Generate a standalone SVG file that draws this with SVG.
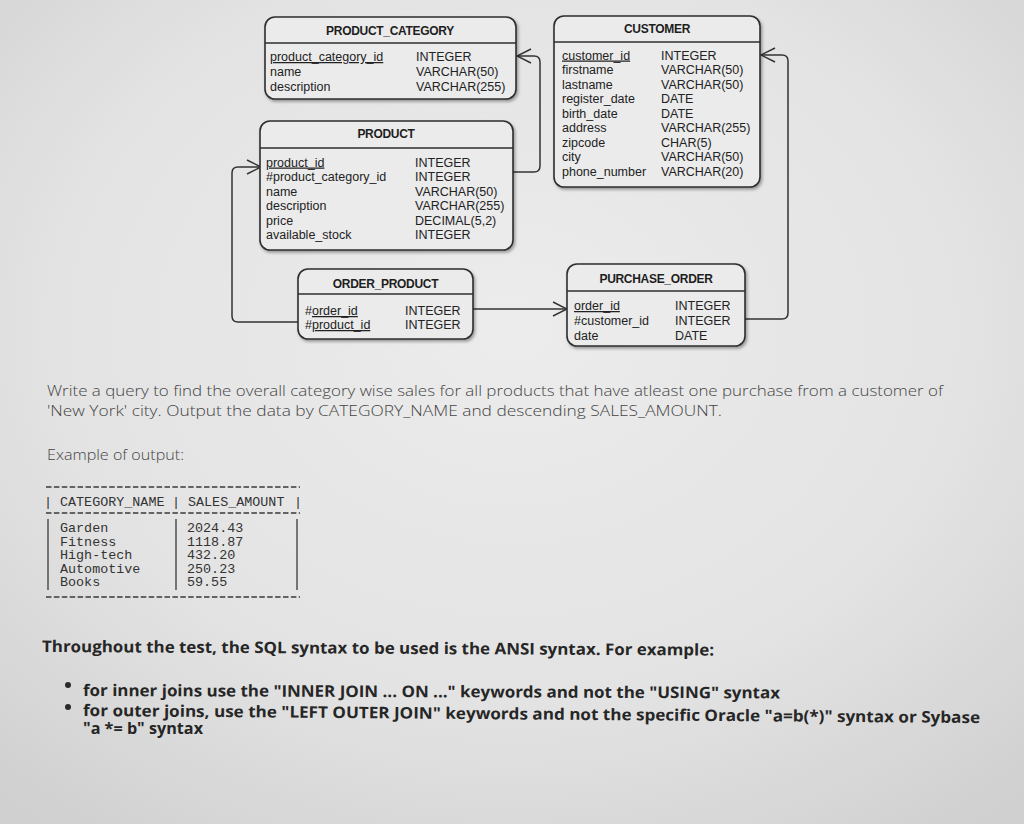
<svg xmlns="http://www.w3.org/2000/svg" width="1024" height="824" viewBox="0 0 1024 824">
<defs>
<radialGradient id="bg" cx="0.5" cy="0.4" r="0.75">
<stop offset="0" stop-color="#ececec"/>
<stop offset="0.6" stop-color="#e3e3e3"/>
<stop offset="1" stop-color="#d0d0d0"/>
</radialGradient>
<filter id="sh" x="-10%" y="-10%" width="120%" height="130%">
<feDropShadow dx="1.5" dy="2" stdDeviation="1.5" flood-color="#000" flood-opacity="0.35"/>
</filter>
<marker id="arr" viewBox="0 0 16 16" refX="15" refY="8" markerWidth="16" markerHeight="16" markerUnits="userSpaceOnUse" orient="auto">
<path d="M1,1 L15,8 L1,15" fill="none" stroke="#333" stroke-width="1.5"/>
</marker>
<style>
.box{fill:#ebebeb;stroke:#2e2e2e;stroke-width:1.6;filter:url(#sh)}
.hl{stroke:#2e2e2e;stroke-width:1.3}
.t{font-family:"Liberation Sans",Arial,sans-serif;font-size:12px;font-weight:bold;fill:#1e1e1e;text-anchor:middle;letter-spacing:-0.3px}
.f{font-family:"Liberation Sans",Arial,sans-serif;font-size:12.5px;fill:#222}
.u{text-decoration:underline}
.con{fill:none;stroke:#333;stroke-width:1.5;marker-end:url(#arr)}
.q{font-family:"Open Sans",sans-serif;font-size:14.5px;fill:#444;font-weight:300}
.b{font-family:"Open Sans",sans-serif;font-size:16px;font-weight:bold;fill:#262626}
.m{font-family:"Liberation Mono","Courier New",monospace;font-size:13.4px;fill:#333}
.bar{stroke:#3a3a3a;stroke-width:1.3}
.dash{stroke:#3a3a3a;stroke-width:1.3;stroke-dasharray:5.5 2.4}
</style>
</defs>
<rect width="1024" height="824" fill="url(#bg)"/>

<g id="connectors">
<path class="con" d="M513,172 H534 Q540,172 540,166 V62 Q540,56 534,56 H517"/>
<path class="con" d="M298,322 H238 Q232,322 232,316 V173 Q232,167 238,167 H261"/>
<path class="con" d="M473,309 H567"/>
<path class="con" d="M745,319 H782 Q788,319 788,313 V61 Q788,55 782,55 H761"/>
</g>

<g id="product_category">
<rect class="box" x="265" y="17" width="251" height="82" rx="10"/>
<line class="hl" x1="265" y1="43" x2="516" y2="43"/>
<text class="t" x="390" y="35">PRODUCT_CATEGORY</text>
<text class="f u" x="270" y="61">product_category_id</text>
<text class="f" x="270" y="76">name</text>
<text class="f" x="270" y="90.5">description</text>
<text class="f" x="416" y="61">INTEGER</text>
<text class="f" x="416" y="76">VARCHAR(50)</text>
<text class="f" x="416" y="90.5">VARCHAR(255)</text>
</g>

<g id="customer">
<rect class="box" x="554" y="16" width="206" height="171" rx="10"/>
<line class="hl" x1="554" y1="42" x2="760" y2="42"/>
<text class="t" x="657" y="33">CUSTOMER</text>
<text class="f u" x="562" y="59.5">customer_id</text>
<text class="f" x="562" y="74">firstname</text>
<text class="f" x="562" y="88.5">lastname</text>
<text class="f" x="562" y="103">register_date</text>
<text class="f" x="562" y="117.5">birth_date</text>
<text class="f" x="562" y="132">address</text>
<text class="f" x="562" y="146.5">zipcode</text>
<text class="f" x="562" y="161">city</text>
<text class="f" x="562" y="175.5">phone_number</text>
<text class="f" x="661" y="59.5">INTEGER</text>
<text class="f" x="661" y="74">VARCHAR(50)</text>
<text class="f" x="661" y="88.5">VARCHAR(50)</text>
<text class="f" x="661" y="103">DATE</text>
<text class="f" x="661" y="117.5">DATE</text>
<text class="f" x="661" y="132">VARCHAR(255)</text>
<text class="f" x="661" y="146.5">CHAR(5)</text>
<text class="f" x="661" y="161">VARCHAR(50)</text>
<text class="f" x="661" y="175.5">VARCHAR(20)</text>
</g>

<g id="product">
<rect class="box" x="260" y="121" width="253" height="129" rx="10"/>
<line class="hl" x1="260" y1="148" x2="513" y2="148"/>
<text class="t" x="386" y="138">PRODUCT</text>
<text class="f u" x="266" y="166.5">product_id</text>
<text class="f" x="266" y="181">#product_category_id</text>
<text class="f" x="266" y="195.5">name</text>
<text class="f" x="266" y="210">description</text>
<text class="f" x="266" y="224.5">price</text>
<text class="f" x="266" y="239">available_stock</text>
<text class="f" x="415" y="166.5">INTEGER</text>
<text class="f" x="415" y="181">INTEGER</text>
<text class="f" x="415" y="195.5">VARCHAR(50)</text>
<text class="f" x="415" y="210">VARCHAR(255)</text>
<text class="f" x="415" y="224.5">DECIMAL(5,2)</text>
<text class="f" x="415" y="239">INTEGER</text>
</g>

<g id="order_product">
<rect class="box" x="298" y="269" width="175" height="70" rx="10"/>
<line class="hl" x1="298" y1="294" x2="473" y2="294"/>
<text class="t" x="385.5" y="288">ORDER_PRODUCT</text>
<text class="f" x="305" y="315">#<tspan class="u">order_id</tspan></text>
<text class="f" x="305" y="329">#<tspan class="u">product_id</tspan></text>
<text class="f" x="405" y="315">INTEGER</text>
<text class="f" x="405" y="329">INTEGER</text>
</g>

<g id="purchase_order">
<rect class="box" x="567" y="264" width="178" height="82" rx="10"/>
<line class="hl" x1="567" y1="291" x2="745" y2="291"/>
<text class="t" x="656" y="283">PURCHASE_ORDER</text>
<text class="f u" x="574" y="310">order_id</text>
<text class="f" x="574" y="325">#customer_id</text>
<text class="f" x="574" y="339.5">date</text>
<text class="f" x="675" y="310">INTEGER</text>
<text class="f" x="675" y="325">INTEGER</text>
<text class="f" x="675" y="339.5">DATE</text>
</g>

<g id="question">
<text class="q" x="47" y="396" textLength="896" lengthAdjust="spacingAndGlyphs">Write a query to find the overall category wise sales for all products that have atleast one purchase from a customer of</text>
<text class="q" x="47" y="416" textLength="675" lengthAdjust="spacingAndGlyphs">'New York' city. Output the data by CATEGORY_NAME and descending SALES_AMOUNT.</text>
<text class="q" x="47" y="460" textLength="137" lengthAdjust="spacingAndGlyphs">Example of output:</text>
</g>

<g id="output_table">
<line class="dash" x1="46" y1="487" x2="300" y2="487"/>
<text class="m" x="44" y="506">|</text>
<text class="m" x="60" y="506">CATEGORY_NAME</text>
<text class="m" x="172" y="506">|</text>
<text class="m" x="188" y="506">SALES_AMOUNT</text>
<text class="m" x="294" y="506">|</text>
<line class="dash" x1="46" y1="513" x2="300" y2="513"/>
<line class="bar" x1="48" y1="519" x2="48" y2="590"/>
<line class="bar" x1="176" y1="519" x2="176" y2="590"/>
<line class="bar" x1="297" y1="519" x2="297" y2="590"/>
<text class="m" x="60" y="532">Garden</text>
<text class="m" x="60" y="545.5">Fitness</text>
<text class="m" x="60" y="559">High-tech</text>
<text class="m" x="60" y="573">Automotive</text>
<text class="m" x="60" y="586">Books</text>
<text class="m" x="187" y="532">2024.43</text>
<text class="m" x="187" y="545.5">1118.87</text>
<text class="m" x="187" y="559">432.20</text>
<text class="m" x="187" y="573">250.23</text>
<text class="m" x="187" y="586">59.55</text>
<line class="dash" x1="46" y1="597" x2="300" y2="597"/>
</g>

<g id="rules">
<text class="b" x="42" y="652" textLength="672" lengthAdjust="spacingAndGlyphs" transform="rotate(0.3 42 652)">Throughout the test, the SQL syntax to be used is the ANSI syntax. For example:</text>
<circle cx="68" cy="685" r="3" fill="#2a2a2a"/>
<circle cx="68" cy="707" r="3" fill="#2a2a2a"/>
<text class="b" x="83" y="696" textLength="697" lengthAdjust="spacingAndGlyphs" transform="rotate(0.2 83 696)">for inner joins use the "INNER JOIN ... ON ..." keywords and not the "USING" syntax</text>
<text class="b" x="83" y="716" textLength="897" lengthAdjust="spacingAndGlyphs" transform="rotate(0.45 83 716)">for outer joins, use the "LEFT OUTER JOIN" keywords and not the specific Oracle "a=b(*)" syntax or Sybase</text>
<text class="b" x="83" y="734" textLength="120" lengthAdjust="spacingAndGlyphs">"a *= b" syntax</text>
</g>
</svg>
